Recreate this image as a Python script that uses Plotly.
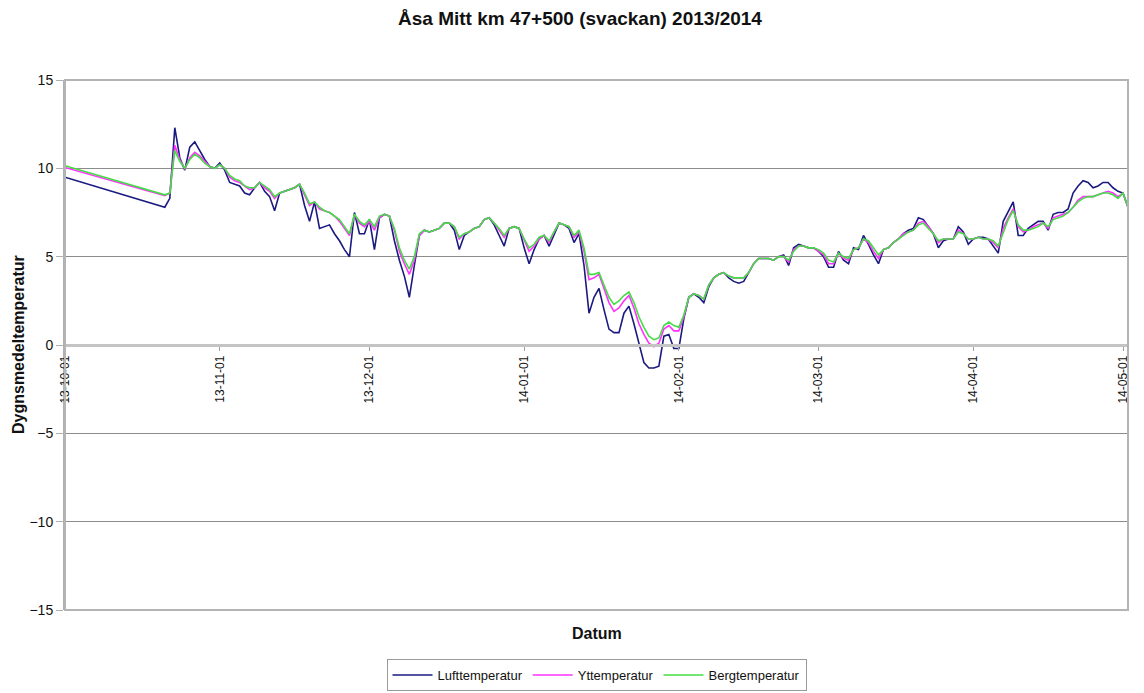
import pandas as pd
import plotly.graph_objects as go

title_text = "Åsa Mitt km 47+500 (svackan) 2013/2014"
series_names = ["Lufttemperatur", "Yttemperatur", "Bergtemperatur"]
series_colors = ["#1a1a80", "#ff33ff", "#44dd44"]

# first logged day, then daily values from 2013-10-21 to 2014-05-02
dates = ["2013-10-01"] + [d.strftime("%Y-%m-%d") for d in pd.date_range("2013-10-21", "2014-05-02", freq="D")]

luft = [9.5,
    7.8, 8.3, 12.3, 10.6, 9.9, 11.2, 11.5, 11.0, 10.5, 10.1,
    10.0, 10.3, 9.9, 9.2, 9.1, 9.0, 8.6, 8.5, 8.9, 9.2,
    8.7, 8.4, 7.6, 8.6, 8.7, 8.8, 8.9, 9.1, 7.9, 7.0,
    8.1, 6.6, 6.7, 6.8, 6.3, 5.9, 5.4, 5.0, 7.5, 6.3,
    6.3, 7.1, 5.4, 7.2, 7.4, 7.3, 5.9, 4.8, 3.9, 2.7,
    4.5, 6.2, 6.5, 6.4, 6.5, 6.6, 6.9, 6.9, 6.5, 5.4,
    6.2, 6.4, 6.6, 6.7, 7.1, 7.2, 6.8, 6.2, 5.6, 6.6,
    6.7, 6.6, 5.5, 4.6, 5.4, 6.0, 6.2, 5.6, 6.3, 6.9,
    6.8, 6.6, 5.8, 6.3, 4.5, 1.8, 2.7, 3.2, 2.0, 0.9,
    0.7, 0.7, 1.8, 2.2, 1.2, 0.1, -1.0, -1.3, -1.3, -1.2,
    0.5, 0.6, -0.2, -0.2, 1.5, 2.7, 2.9, 2.7, 2.4, 3.3,
    3.8, 4.0, 4.1, 3.8, 3.6, 3.5, 3.6, 4.1, 4.6, 4.9,
    4.9, 4.9, 4.8, 5.0, 5.1, 4.5, 5.5, 5.7, 5.6, 5.5,
    5.5, 5.3, 5.0, 4.4, 4.4, 5.3, 4.8, 4.6, 5.5, 5.4,
    6.2, 5.7, 5.1, 4.6, 5.4, 5.5, 5.8, 6.0, 6.3, 6.5,
    6.6, 7.2, 7.1, 6.7, 6.3, 5.5, 5.9, 6.0, 6.0, 6.7,
    6.4, 5.7, 6.0, 6.1, 6.1, 6.0, 5.6, 5.2, 7.0, 7.6,
    8.1, 6.2, 6.2, 6.6, 6.8, 7.0, 7.0, 6.5, 7.4, 7.5,
    7.5, 7.7, 8.6, 9.0, 9.3, 9.2, 8.9, 9.0, 9.2, 9.2,
    8.9, 8.7, 8.6, 7.8]

ytt = [10.05,
    8.45, 8.6, 11.3, 10.5, 9.95, 10.6, 10.9, 10.7, 10.4, 10.1,
    10.0, 10.2, 10.0, 9.5, 9.3, 9.2, 9.0, 8.8, 8.9, 9.2,
    8.9, 8.7, 8.3, 8.6, 8.7, 8.8, 8.9, 9.1, 8.5, 7.9,
    8.1, 7.7, 7.6, 7.5, 7.3, 7.0, 6.6, 6.2, 7.4, 6.9,
    6.7, 7.0, 6.5, 7.2, 7.4, 7.3, 6.5, 5.3, 4.6, 4.0,
    4.8, 6.2, 6.5, 6.4, 6.5, 6.6, 6.9, 6.9, 6.7, 6.0,
    6.3, 6.4, 6.6, 6.7, 7.1, 7.2, 6.9, 6.5, 6.1, 6.6,
    6.7, 6.6, 5.9, 5.3, 5.6, 6.0, 6.2, 5.8, 6.4, 6.9,
    6.8, 6.7, 6.1, 6.4, 5.3, 3.7, 3.8, 4.0, 3.2, 2.4,
    1.9, 2.1, 2.5, 2.8, 2.1, 1.2, 0.6, 0.1, -0.1, 0.1,
    0.9, 1.1, 0.8, 0.8, 1.6, 2.7, 2.9, 2.8, 2.6, 3.4,
    3.8, 4.0, 4.1, 3.9, 3.8, 3.8, 3.8, 4.1, 4.6, 4.9,
    4.9, 4.9, 4.8, 5.0, 5.0, 4.7, 5.4, 5.6, 5.6, 5.5,
    5.5, 5.3, 5.1, 4.6, 4.6, 5.2, 4.9, 4.8, 5.4, 5.5,
    6.0, 5.8, 5.3, 4.9, 5.4, 5.5, 5.8, 6.0, 6.3, 6.4,
    6.5, 6.9, 7.0, 6.7, 6.3, 5.8, 6.0, 6.0, 6.0, 6.5,
    6.3, 6.0, 6.0, 6.1, 6.0, 6.0, 5.8, 5.5, 6.6, 7.2,
    7.7, 6.7, 6.4, 6.5, 6.7, 6.8, 6.9, 6.6, 7.2, 7.3,
    7.4, 7.5, 7.8, 8.2, 8.4, 8.4, 8.4, 8.5, 8.6, 8.7,
    8.6, 8.4, 8.6, 7.8]

berg = [10.15,
    8.5, 8.6, 11.0, 10.4, 10.0, 10.5, 10.8, 10.6, 10.3, 10.1,
    10.0, 10.2, 10.0, 9.6, 9.4, 9.3, 9.0, 8.9, 8.9, 9.2,
    9.0, 8.8, 8.4, 8.6, 8.7, 8.8, 8.9, 9.1, 8.6, 8.0,
    8.1, 7.8, 7.6, 7.5, 7.3, 7.1, 6.7, 6.3, 7.4, 7.0,
    6.8, 7.1, 6.7, 7.3, 7.4, 7.3, 6.6, 5.5, 4.8, 4.3,
    5.0, 6.3, 6.5, 6.4, 6.5, 6.6, 6.9, 6.9, 6.7, 6.1,
    6.3, 6.4, 6.6, 6.7, 7.1, 7.2, 6.9, 6.6, 6.2, 6.6,
    6.7, 6.6, 6.0, 5.5, 5.7, 6.1, 6.2, 5.9, 6.4, 6.9,
    6.8, 6.7, 6.2, 6.5, 5.5, 4.0, 4.0, 4.1, 3.4, 2.7,
    2.3, 2.5, 2.8, 3.0, 2.4, 1.6, 1.0, 0.5, 0.3, 0.4,
    1.1, 1.3, 1.1, 1.0, 1.7, 2.7, 2.9, 2.8, 2.6, 3.4,
    3.8, 4.0, 4.1, 3.9, 3.8, 3.8, 3.8, 4.1, 4.6, 4.9,
    4.9, 4.9, 4.8, 5.0, 5.0, 4.8, 5.3, 5.6, 5.6, 5.5,
    5.5, 5.4, 5.2, 4.8, 4.7, 5.2, 5.0, 4.9, 5.4, 5.5,
    6.0, 5.9, 5.5, 5.1, 5.4, 5.5, 5.8, 6.0, 6.2, 6.4,
    6.5, 6.8, 6.9, 6.6, 6.3, 5.9, 6.0, 6.0, 6.0, 6.4,
    6.3, 6.0, 6.0, 6.1, 6.0, 6.0, 5.9, 5.6, 6.4, 7.1,
    7.6, 6.8, 6.5, 6.5, 6.6, 6.7, 6.9, 6.7, 7.1, 7.2,
    7.3, 7.5, 7.8, 8.1, 8.3, 8.4, 8.4, 8.5, 8.6, 8.6,
    8.5, 8.3, 8.6, 7.8]

tick_dates = ["2013-10-01", "2013-11-01", "2013-12-01", "2014-01-01",
              "2014-02-01", "2014-03-01", "2014-04-01", "2014-05-01"]
tick_labels = ["13-10-01", "13-11-01", "13-12-01", "14-01-01",
               "14-02-01", "14-03-01", "14-04-01", "14-05-01"]
y_ticks = [-15, -10, -5, 0, 5, 10, 15]

fig = go.Figure()
for name, vals, col in zip(series_names, [luft, ytt, berg], series_colors):
    fig.add_trace(go.Scatter(x=dates, y=vals, mode="lines", name=name,
                             line=dict(color=col, width=1.6)))

# the page body adds an 8px offset; the figure is sized to compensate
W, H = 1136, 685
ML, MR, MT, MB = 57, 16, 72, 83
plot_h = H - MT - MB

font_family = "Liberation Sans, Arial, sans-serif"
fig.update_layout(
    width=W, height=H,
    paper_bgcolor="white", plot_bgcolor="white",
    margin=dict(l=ML, r=MR, t=MT, b=MB, autoexpand=False),
    font=dict(family=font_family, color="#111111", size=13),
    title=dict(text="<b>" + title_text + "</b>", x=(580 - 8) / W, xanchor="center",
               y=1 - 10 / H, yanchor="middle", font=dict(size=19, color="#111111")),
    showlegend=True,
    legend=dict(orientation="h", x=0.5, xanchor="center", y=-(651 - 602) / plot_h, yanchor="top",
                bordercolor="#9a9a9a", borderwidth=1, font=dict(size=13),
                itemwidth=40, tracegroupgap=0),
    xaxis=dict(type="date", range=["2013-10-01", "2014-05-02"],
               tickvals=tick_dates, ticktext=tick_labels, tickangle=-90,
               anchor="free", position=0.5, showline=True, linecolor="#c4c4c4", linewidth=2.5,
               ticks="outside", ticklen=4, tickcolor="#a0a0a0", showgrid=False,
               tickfont=dict(size=12), zeroline=False, automargin=False),
    yaxis=dict(range=[-15, 15], tickvals=y_ticks, showgrid=True, gridcolor="#8c8c8c",
               gridwidth=1, zeroline=False, showline=True, linecolor="#b0b0b0", linewidth=2,
               ticks="outside", ticklen=7, tickcolor="#b0b0b0", tickfont=dict(size=14),
               automargin=False),
    shapes=[dict(type="rect", xref="paper", yref="paper", x0=0, x1=1, y0=0, y1=1,
                 line=dict(color="#b4b4b4", width=2), fillcolor="rgba(0,0,0,0)")],
    annotations=[
        dict(text="<b>Datum</b>", xref="paper", yref="paper", x=0.5, y=-23 / plot_h,
             showarrow=False, font=dict(size=16), xanchor="center", yanchor="middle"),
        dict(text="<b>Dygnsmedeltemperatur</b>", xref="paper", yref="paper",
             x=-47 / (W - ML - MR), y=0.5, textangle=-90, showarrow=False, font=dict(size=16),
             xanchor="center", yanchor="middle"),
    ],
)

fig.write_html("out.html")
